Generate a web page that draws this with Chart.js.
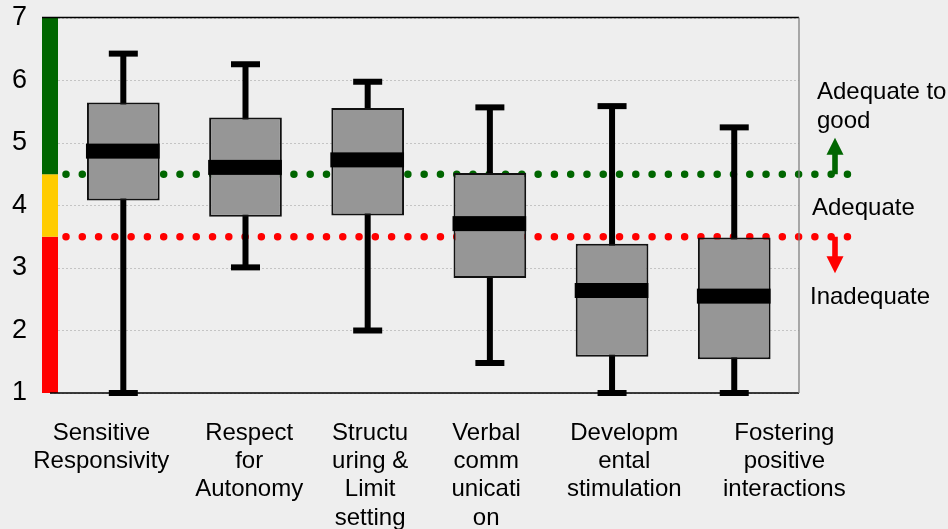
<!DOCTYPE html>
<html>
<head>
<meta charset="utf-8">
<script src="https://cdn.jsdelivr.net/npm/chart.js@4/dist/chart.umd.min.js"></script>
<style>
  html, body { margin: 0; padding: 0; background: #eeeeee; }
  canvas { display: block; }
</style>
</head>
<body>
<canvas id="chart" width="948" height="529"></canvas>
<script>
// Domain labels, one array of text lines per domain
const categories = [
  ["Sensitive", "Responsivity"],
  ["Respect", "for", "Autonomy"],
  ["Structu", "uring &", "Limit", "setting"],
  ["Verbal", "comm", "unicati", "on"],
  ["Developm", "ental", "stimulation"],
  ["Fostering", "positive", "interactions"]
];

// Five-number summaries per domain (scale 1-7)
const lowWhisker    = [1.00, 3.01, 2.00, 1.48, 1.00, 1.00];
const lowerQuartile = [4.08, 3.82, 3.84, 2.84, 1.58, 1.54];
const medianScore   = [4.87, 4.61, 4.73, 3.71, 2.64, 2.55];
const upperQuartile = [5.65, 5.41, 5.56, 4.52, 3.39, 3.49];
const highWhisker   = [6.43, 6.26, 5.98, 5.57, 5.59, 5.25];

const yTickValues = [1, 2, 3, 4, 5, 6, 7];

// Quality bands: inadequate, adequate, adequate to good
const bandEdges  = [1, 3.5, 4.5, 7];
const bandColors = ["#ff0000", "#ffcc00", "#006600"];
const cutoffValues = [3.5, 4.5];
const cutoffColors = ["#ff0000", "#006600"];
const zoneNames = ["Inadequate", "Adequate", "Adequate to", "good"];

// Where each caption block sits along the domain axis
const captionAnchors = [-0.18, 1.03, 2.02, 2.97, 4.10, 5.41];

const FONT = '"Liberation Sans", Arial, Helvetica, sans-serif';
Chart.defaults.font.family = FONT;
Chart.defaults.color = "#000";

function drawArrow(ctx, x, yStart, yTip, color) {
  const dir = Math.sign(yTip - yStart);
  const head = 17, halfHead = 8.5, halfShaft = 2.8;
  const yBase = yTip - dir * head;
  ctx.fillStyle = color;
  ctx.beginPath();
  ctx.moveTo(x - halfShaft, yStart);
  ctx.lineTo(x - halfShaft, yBase);
  ctx.lineTo(x - halfHead, yBase);
  ctx.lineTo(x, yTip);
  ctx.lineTo(x + halfHead, yBase);
  ctx.lineTo(x + halfShaft, yBase);
  ctx.lineTo(x + halfShaft, yStart);
  ctx.closePath();
  ctx.fill();
}

const boxPlotDecor = {
  id: "boxPlotDecor",
  beforeDatasetsDraw(chart) {
    const { ctx, chartArea: a, scales: { y } } = chart;

    // dotted cut-off lines
    ctx.save();
    ctx.lineCap = "round";
    ctx.lineWidth = 7.5;
    ctx.setLineDash([0, 16.28]);
    cutoffValues.forEach((v, i) => {
      const py = y.getPixelForValue(v);
      ctx.strokeStyle = cutoffColors[i];
      ctx.beginPath();
      ctx.moveTo(a.left + 16, py);
      ctx.lineTo(a.right + 50, py);
      ctx.stroke();
    });
    ctx.restore();

    // whisker stems and caps
    const meta = chart.getDatasetMeta(0);
    ctx.save();
    ctx.fillStyle = "#000";
    meta.data.forEach((bar, i) => {
      const hi = y.getPixelForValue(highWhisker[i]);
      const lo = y.getPixelForValue(lowWhisker[i]);
      ctx.fillRect(bar.x - 3, hi, 6, lo - hi);
      ctx.fillRect(bar.x - 14.5, hi - 3, 29, 6);
      ctx.fillRect(bar.x - 14.5, lo - 3, 29, 6);
    });
    ctx.restore();
  },
  afterDatasetsDraw(chart) {
    const { ctx, chartArea: a, scales: { y } } = chart;
    const meta = chart.getDatasetMeta(0);

    // median bands
    ctx.save();
    ctx.fillStyle = "#000";
    meta.data.forEach((bar, i) => {
      const my = y.getPixelForValue(medianScore[i]);
      ctx.fillRect(bar.x - bar.width / 2 - 1, my - 7.5, bar.width + 1, 15);
    });
    ctx.restore();

    // colour band strip on the left edge
    ctx.save();
    for (let i = 0; i < bandColors.length; i++) {
      const top = y.getPixelForValue(bandEdges[i + 1]);
      const bottom = y.getPixelForValue(bandEdges[i]);
      ctx.fillStyle = bandColors[i];
      ctx.fillRect(a.left - 8, top, 16, bottom - top);
    }
    ctx.restore();

    // plot frame
    ctx.save();
    ctx.lineWidth = 1.3;
    ctx.strokeStyle = "#000";
    ctx.beginPath();
    ctx.moveTo(a.left - 8, a.top - 0.5);
    ctx.lineTo(a.right, a.top - 0.5);
    ctx.moveTo(a.left, a.bottom);
    ctx.lineTo(a.right, a.bottom);
    ctx.stroke();
    ctx.strokeStyle = "#808080";
    ctx.beginPath();
    ctx.moveTo(a.right, a.top - 0.5);
    ctx.lineTo(a.right, a.bottom);
    ctx.stroke();
    ctx.restore();

    // direction arrows next to the cut-offs
    const yGood = y.getPixelForValue(cutoffValues[1]);
    const yBad = y.getPixelForValue(cutoffValues[0]);
    drawArrow(ctx, a.right + 36, yGood, yGood - 36.5, cutoffColors[1]);
    drawArrow(ctx, a.right + 36, yBad, yBad + 36.5, cutoffColors[0]);

    // zone names
    ctx.save();
    ctx.fillStyle = "#000";
    ctx.font = "24px " + FONT;
    ctx.textBaseline = "alphabetic";
    ctx.textAlign = "left";
    ctx.fillText(zoneNames[2], a.right + 18, yGood - 75);
    ctx.fillText(zoneNames[3], a.right + 18, yGood - 46.5);
    ctx.fillText(zoneNames[1], a.right + 13, y.getPixelForValue(4) + 9.5);
    ctx.fillText(zoneNames[0], a.right + 11, yBad + 67);
    ctx.restore();
  }
};

const boxData = lowerQuartile.map((q1, i) => ({ x: i, y: [q1, upperQuartile[i]] }));

new Chart(document.getElementById("chart"), {
  type: "bar",
  data: {
    datasets: [{
      data: boxData,
      xAxisID: "x",
      yAxisID: "y",
      backgroundColor: "#969696",
      borderColor: "#111111",
      borderWidth: 2,
      borderSkipped: false,
      barPercentage: 0.595,
      categoryPercentage: 1.0
    }]
  },
  options: {
    responsive: false,
    animation: false,
    devicePixelRatio: 1,
    events: [],
    layout: { padding: { top: 18, right: 149, bottom: 0, left: 0 } },
    plugins: { legend: { display: false }, tooltip: { enabled: false } },
    scales: {
      x: {
        type: "linear",
        display: false,
        offset: false,
        min: -0.6,
        max: 5.53,
        afterBuildTicks: (s) => { s.ticks = categories.map((_, i) => ({ value: i })); }
      },
      xCaptions: {
        type: "linear",
        axis: "x",
        position: "bottom",
        offset: false,
        min: -0.6,
        max: 5.53,
        grid: { display: false, drawTicks: false, offset: false },
        border: { display: false },
        afterBuildTicks: (s) => { s.ticks = captionAnchors.map(v => ({ value: v })); },
        afterFit: (s) => { s.height = 136; s.paddingLeft = 0; s.paddingRight = 0; },
        ticks: {
          autoSkip: false,
          maxRotation: 0,
          minRotation: 0,
          padding: 26,
          color: "#000",
          font: { size: 24, lineHeight: 1.18 },
          callback: (v, i) => categories[i]
        }
      },
      y: {
        type: "linear",
        min: 1,
        max: 7,
        afterBuildTicks: (s) => { s.ticks = yTickValues.map(v => ({ value: v })); },
        afterFit: (s) => { s.width = 50; s.paddingTop = 0; s.paddingBottom = 0; },
        grid: { color: "#c4c4c4", lineWidth: 1, drawTicks: false },
        border: { display: false, dash: [2, 2] },
        ticks: {
          padding: 23,
          color: "#000",
          font: { size: 27 },
          callback: (v) => String(v)
        }
      }
    }
  },
  plugins: [boxPlotDecor]
});
</script>
</body>
</html>
